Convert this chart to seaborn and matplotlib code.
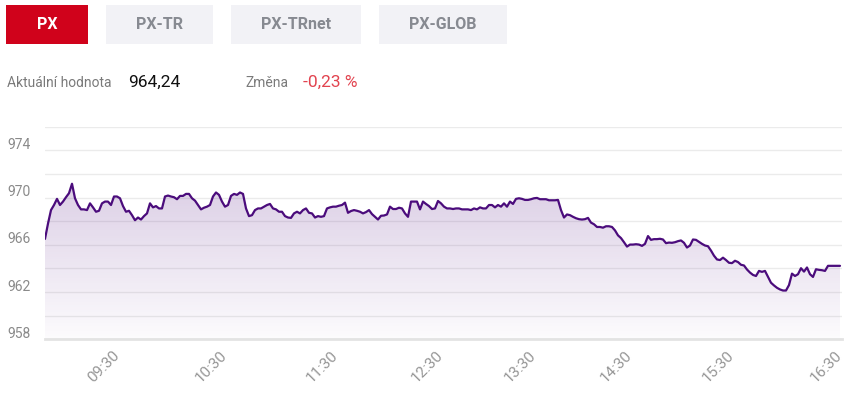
import numpy as np
import matplotlib
matplotlib.use("Agg")
import matplotlib.pyplot as plt
import matplotlib.transforms as mtransforms
from matplotlib.patches import Rectangle
import seaborn as sns

# PX index intraday, one sample every ~3 px of the original chart
px_values = [
    966.50, 967.80, 968.94, 969.37, 969.89, 969.37, 969.66, 970.03, 970.37, 971.17,
    969.94, 969.37, 969.00, 969.00, 968.94, 969.51, 969.17, 968.80, 968.88, 969.51,
    969.66, 969.66, 969.37, 970.09, 970.09, 969.94, 969.28, 968.80, 968.88, 968.51,
    968.08, 968.31, 968.14, 968.43, 968.66, 969.51, 969.17, 969.28, 969.08,
    969.08, 970.09, 970.17, 970.09, 970.03, 969.86, 970.14, 970.14, 970.31, 970.31,
    969.94, 969.74, 969.37, 969.00, 969.14, 969.23, 969.37, 970.09, 970.43, 970.23,
    969.66, 969.23, 969.37, 970.14, 970.31, 970.23, 970.43, 970.31, 969.08, 968.43,
    968.51, 968.94, 969.08, 969.08, 969.23, 969.37, 969.46, 969.08,
    969.00, 968.80, 968.80, 968.43, 968.31, 968.28, 968.66, 968.80, 968.66, 968.94,
    969.08, 968.71, 968.66, 968.31, 968.43, 968.37, 968.43, 969.08, 969.17, 969.23,
    969.23, 969.31, 969.37, 969.57, 968.71, 968.86, 968.94, 968.88, 968.80, 968.66,
    968.77, 968.94, 968.60, 968.37, 968.14, 968.46, 968.48, 968.57,
    969.23, 969.03, 969.03, 969.14, 969.08, 968.66, 968.37, 969.66, 969.66, 969.66,
    969.00, 969.66, 969.46, 969.28, 969.03, 969.08, 969.71, 969.51, 969.23, 969.08,
    969.08, 969.03, 969.08, 969.08, 969.00, 969.00, 969.00, 968.94, 969.08, 969.00,
    969.17, 969.08, 969.08, 969.37, 969.37, 969.17, 969.37, 969.23, 969.51,
    969.23, 969.66, 969.46, 969.89, 969.94, 969.89, 969.80, 969.80, 969.86, 969.94,
    969.97, 969.86, 969.86, 969.86, 969.77, 969.77, 969.77, 969.80, 968.94, 968.31,
    968.57, 968.51, 968.37, 968.25, 968.17, 968.14, 968.17, 968.28, 967.88, 967.74,
    967.51, 967.51, 967.45, 967.57, 967.57, 967.51, 967.22, 966.80,
    966.57, 966.22, 965.85, 966.02, 966.02, 966.05, 966.02, 965.91, 966.08, 966.74,
    966.42, 966.48, 966.48, 966.51, 966.45, 966.14, 966.19, 966.17, 966.22, 966.31,
    966.37, 966.17, 965.77, 965.94, 966.45, 966.42, 966.25, 966.08, 965.94, 965.88,
    965.51, 965.08, 964.76, 964.71, 964.91, 964.71, 964.48, 964.45, 964.65,
    964.54, 964.31, 964.25, 963.91, 963.65, 963.45, 963.36, 963.79, 963.71, 963.79,
    963.28, 962.79, 962.56, 962.36, 962.22, 962.13, 962.13, 962.59, 963.56, 963.36,
    963.51, 964.02, 963.73, 964.08, 963.51, 963.28, 963.93, 963.88, 963.85, 963.79,
    964.22, 964.22, 964.22, 964.22, 964.22,
]
time_labels = ["09:30", "10:30", "11:30", "12:30", "13:30", "14:30", "15:30", "16:30"]
time_index = [24, 60, 97, 132, 163, 195, 229, 265]
grid_levels = [958, 960, 962, 964, 966, 968, 970, 972, 974, 976]
label_levels = [958, 962, 966, 970, 974]
index_names = ["PX", "PX-TR", "PX-TRnet", "PX-GLOB"]
current_value = "964,24"
change_value = "-0,23 %"

sns.set_style("white")
plt.rcParams["font.family"] = ["Roboto", "DejaVu Sans"]

LINE = "#4b0c7c"
GRAY = "#8a8a8a"

fig = plt.figure(figsize=(8.44, 3.97), dpi=100)
W, H = 844, 397
ax = fig.add_axes([45 / W, 1 - 339.3 / H, 797 / W, (339.3 - 126.7) / H])

x = np.arange(len(px_values))
y = np.array(px_values)
sns.lineplot(x=x, y=y, color=LINE, linewidth=1.6, ax=ax, zorder=3)

ax.set_xlim(0, 265.67)
ax.set_ylim(958, 976)

# gradient fill under the line
poly = ax.fill_between(x, y, 958, color="none", lw=0)
grad = np.linspace(0.0, 1.0, 256).reshape(-1, 1)
rgba = np.zeros((256, 1, 4))
rgba[..., 0] = 0.45
rgba[..., 1] = 0.25
rgba[..., 2] = 0.60
rgba[..., 3] = 0.02 + 0.23 * grad
img = ax.imshow(rgba, aspect="auto", origin="lower",
                extent=[0, 265.67, 958, y.max()], zorder=2)
img.set_clip_path(poly.get_paths()[0], transform=ax.transData)

# grid
ax.set_yticks(grid_levels)
ax.set_yticklabels([])
ax.tick_params(axis="y", length=0)
ax.yaxis.grid(True, color="#ebebeb", lw=1)
ax.xaxis.grid(False)
for s in ["top", "left", "right"]:
    ax.spines[s].set_visible(False)
ax.spines["bottom"].set_color("#e3e3e3")
ax.spines["bottom"].set_linewidth(2)

# y labels sit a little above their grid lines
ylab_tr = mtransforms.blended_transform_factory(fig.transFigure, ax.transData) + \
    mtransforms.ScaledTranslation(0, 7 / 100, fig.dpi_scale_trans)
for v in label_levels:
    ax.text(7 / W, v, str(v), transform=ylab_tr, ha="left", va="center_baseline",
            fontsize=10, color=GRAY)

ax.set_xticks(time_index)
ax.set_xticklabels(time_labels, rotation=45, ha="right", va="center",
                   rotation_mode="anchor", fontsize=11, color="#969696")
ax.tick_params(axis="x", length=0, pad=10)

# header buttons
btn_x = [(6, 88), (106, 213), (231, 361), (379, 507)]
for i, (name, (x0, x1)) in enumerate(zip(index_names, btn_x)):
    fc = "#d0021b" if i == 0 else "#f2f2f6"
    tc = "white" if i == 0 else "#878a91"
    fig.patches.append(Rectangle((x0 / W, 1 - 44 / H), (x1 - x0) / W, 39 / H,
                                 transform=fig.transFigure, facecolor=fc,
                                 edgecolor="none"))
    fig.text((x0 + x1) / 2 / W, 1 - 24.5 / H, name, ha="center", va="center",
             fontsize=11.5, fontweight="bold", color=tc)

fig.text(7 / W, 1 - 83 / H, "Aktuální hodnota", ha="left", va="center",
         fontsize=10, color="#7a7a7a")
fig.text(128 / W, 1 - 82.5 / H, current_value, ha="left", va="center",
         fontsize=12.5, color="#111111")
fig.text(245 / W, 1 - 83 / H, "Změna", ha="left", va="center",
         fontsize=10, color="#7a7a7a")
fig.text(303 / W, 1 - 82.5 / H, change_value, ha="left", va="center",
         fontsize=12.5, color="#e2434f")

fig.savefig("out.png", dpi=100, facecolor="white")
